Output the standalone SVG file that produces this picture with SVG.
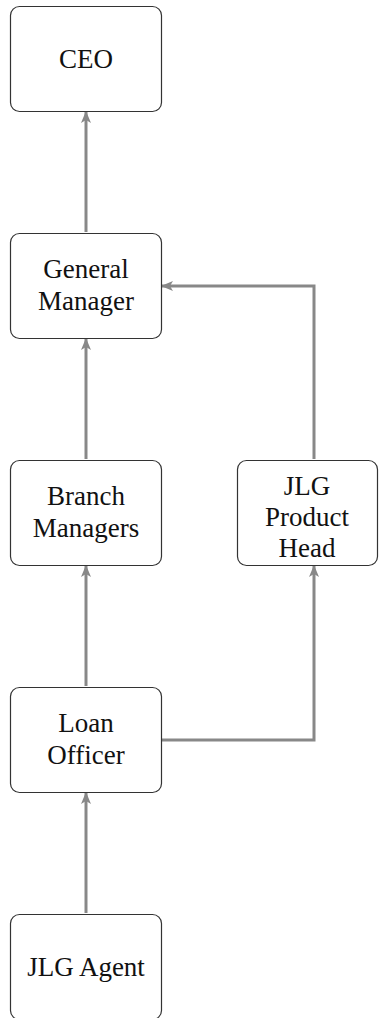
<svg xmlns="http://www.w3.org/2000/svg" width="380" height="1018" viewBox="0 0 380 1018">
<style>
.box{fill:#fff;stroke:#333;stroke-width:1.2}
.lbl{font-family:"Liberation Serif",serif;font-size:27px;fill:#111;text-anchor:middle}
.edge{fill:none;stroke:#888;stroke-width:3}
</style>
<defs>
<marker id="ah" viewBox="0 0 12 10" refX="11" refY="5" markerWidth="12" markerHeight="10" markerUnits="userSpaceOnUse" orient="auto">
<path d="M0,0 L12,5 L0,10 L3,5 Z" fill="#888"/>
</marker>
</defs>
<g id="connectors">
<path class="edge" d="M86,232 V112" marker-end="url(#ah)"/>
<path class="edge" d="M86,459 V339" marker-end="url(#ah)"/>
<path class="edge" d="M86,686 V566" marker-end="url(#ah)"/>
<path class="edge" d="M86,913 V793" marker-end="url(#ah)"/>
<path class="edge" d="M314,459 V286 H162" marker-end="url(#ah)"/>
<path class="edge" d="M161,740 H314 V566" marker-end="url(#ah)"/>
</g>
<g id="ceo"><rect class="box" x="10.5" y="6.5" width="151" height="105" rx="9"/><text class="lbl" x="86" y="68">CEO</text></g>
<g id="gm"><rect class="box" x="10.5" y="233.5" width="151" height="105" rx="9"/><text class="lbl" x="86" y="278">General</text><text class="lbl" x="86" y="310">Manager</text></g>
<g id="bm"><rect class="box" x="10.5" y="460.5" width="151" height="105" rx="9"/><text class="lbl" x="86" y="505">Branch</text><text class="lbl" x="86" y="537">Managers</text></g>
<g id="jph"><rect class="box" x="237.5" y="460.5" width="140" height="105" rx="9"/><text class="lbl" x="307" y="495">JLG</text><text class="lbl" x="307" y="526">Product</text><text class="lbl" x="307" y="557">Head</text></g>
<g id="lo"><rect class="box" x="10.5" y="687.5" width="151" height="105" rx="9"/><text class="lbl" x="86" y="732">Loan</text><text class="lbl" x="86" y="764">Officer</text></g>
<g id="agent"><rect class="box" x="10.5" y="914.5" width="151" height="105" rx="9"/><text class="lbl" x="86" y="976">JLG Agent</text></g>
</svg>
